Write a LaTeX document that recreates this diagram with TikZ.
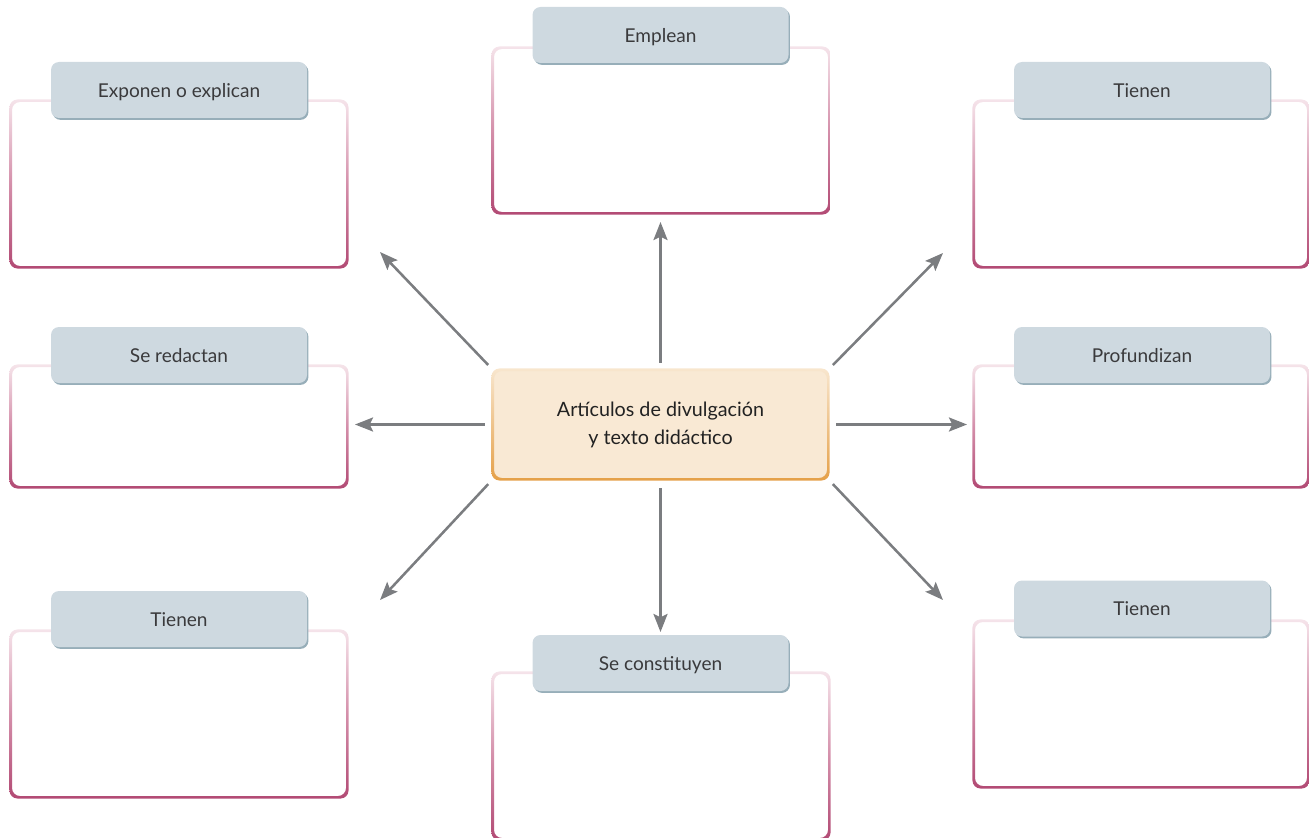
\documentclass[tikz,border=0pt]{standalone}
\usepackage{fontspec}
\setmainfont{Lato}
\usetikzlibrary{arrows.meta,shadows}
\definecolor{pkT}{HTML}{F5E4EA}
\definecolor{pkM}{HTML}{D48FAA}
\definecolor{pkB}{HTML}{B24A74}
\definecolor{orT}{HTML}{F8E6CE}
\definecolor{orB}{HTML}{E5A048}
\definecolor{cfill}{HTML}{F9E9D4}
\definecolor{tabfill}{HTML}{CED9E0}
\definecolor{tabsh}{HTML}{97AEB9}
\definecolor{tabtext}{HTML}{3A3A3C}
\definecolor{ctext}{HTML}{222222}
\definecolor{arrgray}{HTML}{7B7D80}
\newcommand{\gradring}[4]{%
  \shade[top color=#2, bottom color=#4, middle color=#3, even odd rule, rounded corners=6pt]
    ([shift={(-0.95pt,-0.95pt)}]#1.south west) rectangle ([shift={(0.95pt,0.95pt)}]#1.north east)
    ([shift={(0.95pt,0.95pt)}]#1.south west) rectangle ([shift={(-0.95pt,-0.95pt)}]#1.north east);}
\begin{document}
\begin{tikzpicture}[x=0.75pt,y=-0.75pt,
  box/.style={rectangle, minimum width=252pt, inner sep=0pt, draw=none},
  tab/.style={rectangle, rounded corners=6pt, fill=tabfill, minimum width=192pt, minimum height=42pt,
    inner sep=0pt, text=tabtext, font=\fontsize{14.3pt}{17pt}\selectfont,
    text height=11pt, text depth=0pt,
    general shadow={fill=tabsh, shadow xshift=1.1pt, shadow yshift=-1.4pt}},
  central/.style={rectangle, rounded corners=6pt, fill=cfill, minimum width=251.25pt, minimum height=81.75pt,
    inner sep=0pt, text=ctext, font=\fontsize{14.8pt}{21pt}\selectfont},
  arr/.style={draw=arrgray, line width=1.9pt, -{Stealth[length=13.5pt,width=10.5pt,inset=2.5pt]}},
]
\useasboundingbox (0,0) rectangle (1309,838);

% answer boxes
\node[box, minimum height=124.5pt] (b1) at (179,184) {};
\node[box, minimum height=90.75pt] (b2) at (179,426.5) {};
\node[box, minimum height=124.5pt] (b3) at (179,714) {};
\node[box, minimum height=123.75pt] (b4) at (661,130.5) {};
\node[box, minimum height=124.5pt] (b5) at (661,756) {};
\node[box, minimum width=250.5pt, minimum height=124.5pt] (b6) at (1141,184) {};
\node[box, minimum width=250.5pt, minimum height=90.75pt] (b7) at (1141,426.5) {};
\node[box, minimum width=250.5pt, minimum height=124.5pt] (b8) at (1141,704) {};
\foreach \b in {b1,b2,b3,b4,b5,b6,b7,b8}{\gradring{\b}{pkT}{pkM}{pkB}}

% tabs
\node[tab] (t1) at (179,90) {Exponen o explican};
\node[tab] (t2) at (179,355) {Se redactan};
\node[tab] (t3) at (179,619) {Tienen};
\node[tab] (t4) at (660.5,35) {Emplean};
\node[tab] (t5) at (660.5,663) {Se constituyen};
\node[tab] (t6) at (1142,90) {Tienen};
\node[tab] (t7) at (1142,355) {Profundizan};
\node[tab] (t8) at (1142,608.5) {Tienen};

% central node
\node[central] (c) at (660.5,424.5) {\raisebox{-2.3pt}{\begin{tabular}{@{}c@{}}Artículos de divulgación\\y texto didáctico\end{tabular}}};
\gradring{c}{orT}{orT!50!orB}{orB}

% arrow ends
\coordinate (eN) at (660.5,222);
\coordinate (eS) at (660.5,632);
\coordinate (eW) at (355,424.5);
\coordinate (eE) at (967,424.5);
\coordinate (eNW) at (380,252);
\coordinate (eNE) at (943,253);
\coordinate (eSW) at (380,600);
\coordinate (eSE) at (943,600);

\draw[arr, shorten <=5.25pt] (c.north) -- (eN);
\draw[arr, shorten <=6.75pt] (c.south) -- (eS);
\draw[arr, shorten <=6pt] (c.west) -- (eW);
\draw[arr, shorten <=6pt] (c.east) -- (eE);
\draw[arr, shorten <=5pt] (c.north west) -- (eNW);
\draw[arr, shorten <=5pt] (c.north east) -- (eNE);
\draw[arr, shorten <=5pt] (c.south west) -- (eSW);
\draw[arr, shorten <=5pt] (c.south east) -- (eSE);
\end{tikzpicture}
\end{document}
